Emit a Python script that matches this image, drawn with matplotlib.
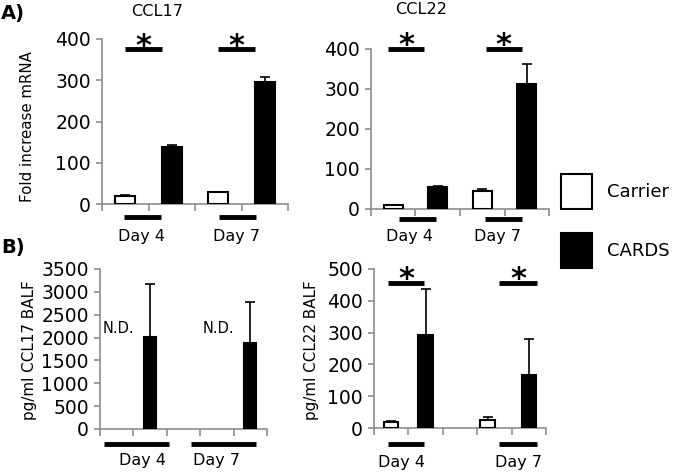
import matplotlib
matplotlib.use("Agg")
import matplotlib.pyplot as plt
from matplotlib.patches import Rectangle

plt.rcParams['font.family'] = ['DejaVu Sans']

# data
days = ['Day 4', 'Day 7']
groups = ['Carrier', 'CARDS']

# A) fold increase mRNA
ccl17_mrna = [20, 139, 28, 296]
ccl17_mrna_err = [2, 4, 2, 11]
ccl22_mrna = [10, 56, 46, 313]
ccl22_mrna_err = [1, 2, 4, 49]

# B) BALF protein (carrier CCL17 not detected)
ccl17_balf = [2005, 1875]
ccl17_balf_err = [1165, 905]
ccl22_balf = [20, 291, 24, 167]
ccl22_balf_err = [2, 146, 11, 112]

W, H = 680, 475
fig = plt.figure(figsize=(6.8, 4.75), dpi=100)
GRAY = '#8c8c8c'
TICK_FS = 13.5


def make_ax(left, right, y0, ytop):
    ax = fig.add_axes([left / W, (H - y0) / H, (right - left) / W, (y0 - ytop) / H])
    for s in ['top', 'right']:
        ax.spines[s].set_visible(False)
    for s in ['left', 'bottom']:
        ax.spines[s].set_color(GRAY)
        ax.spines[s].set_linewidth(1.2)
    ax.tick_params(axis='y', colors=GRAY, labelcolor='black', length=4, width=1.2,
                   pad=4, labelsize=TICK_FS)
    ax.tick_params(axis='x', colors=GRAY, length=5, width=1.2, labelbottom=False)
    return ax


def bars(ax, xs, vals, errs, colors, width):
    ax.bar(xs, vals, width=width, color=colors, edgecolor='black', linewidth=1.5, zorder=3)
    ax.errorbar(xs, vals, yerr=[[0] * len(vals), errs], fmt='none', ecolor='black',
                elinewidth=1.2, capsize=3.5, capthick=1.2, zorder=2)


def sig(ax, x0, x1, y):
    ax.plot([x0, x1], [y, y], color='black', lw=3.5, solid_capstyle='butt', clip_on=False)
    ax.annotate('*', ((x0 + x1) / 2, y), xytext=(0, -3.8), textcoords='offset points',
                ha='center', va='baseline', fontsize=22, fontweight='bold',
                annotation_clip=False)


def under(ax, x0, x1, yfrac):
    ax.plot([x0, x1], [yfrac, yfrac], color='black', lw=3.5, solid_capstyle='butt',
            transform=ax.get_xaxis_transform(), clip_on=False)


def daylabels(ax, xs, yfrac, fs):
    for x, d in zip(xs, days):
        ax.text(x, yfrac, d, ha='center', va='center', fontsize=fs,
                transform=ax.get_xaxis_transform())


cols4 = ['white', 'black', 'white', 'black']

# A) CCL17
ax1 = make_ax(102, 288, 204, 39)
bars(ax1, [0.5, 1.5, 2.5, 3.5], ccl17_mrna, ccl17_mrna_err, cols4, 0.43)
ax1.set_xlim(0, 4)
ax1.set_ylim(0, 400)
ax1.set_xticks([0, 1, 2, 3, 4])
ax1.set_yticks([0, 100, 200, 300, 400])
ax1.set_ylabel('Fold increase mRNA', fontsize=10.8)
ax1.yaxis.set_label_coords(-0.36, 0.47)
sig(ax1, 0.5, 1.3, 375)
sig(ax1, 2.5, 3.3, 375)
under(ax1, 0.47, 1.27, -0.08)
under(ax1, 2.52, 3.31, -0.08)
daylabels(ax1, [0.86, 2.9], -0.194, 11.5)
fig.text(157 / W, (H - 11) / H, 'CCL17', ha='center', va='center', fontsize=11.6)

# A) CCL22
ax2 = make_ax(371, 549, 209, 49)
bars(ax2, [0.5, 1.5, 2.5, 3.5], ccl22_mrna, ccl22_mrna_err, cols4, 0.43)
ax2.set_xlim(0, 4)
ax2.set_ylim(0, 400)
ax2.set_xticks([0, 1, 2, 3, 4])
ax2.set_yticks([0, 100, 200, 300, 400])
sig(ax2, 0.38, 1.19, 400)
sig(ax2, 2.58, 3.39, 400)
under(ax2, 0.63, 1.46, -0.06)
under(ax2, 2.56, 3.39, -0.06)
daylabels(ax2, [0.86, 2.85], -0.175, 11.5)
fig.text(421 / W, (H - 10) / H, 'CCL22', ha='center', va='center', fontsize=11.6)

# B) CCL17 BALF
ax3 = make_ax(100, 267, 429, 269)
bars(ax3, [1.5, 4.5], ccl17_balf, ccl17_balf_err, ['black', 'black'], 0.36)
ax3.set_xlim(0, 5)
ax3.set_ylim(0, 3500)
ax3.set_xticks([0, 1, 2, 3, 4, 5])
ax3.set_yticks(range(0, 3501, 500))
ax3.set_ylabel('pg/ml CCL17 BALF', fontsize=10.9)
ax3.yaxis.set_label_coords(-0.377, 0.49)
for x in [0.55, 3.55]:
    ax3.text(x, 2200, 'N.D.', ha='center', va='center', fontsize=10.5)
under(ax3, 0.12, 2.06, -0.095)
under(ax3, 2.72, 4.67, -0.095)
daylabels(ax3, [1.26, 3.5], -0.194, 11.5)

# B) CCL22 BALF
ax4 = make_ax(374, 546, 428, 269)
bars(ax4, [0.5, 1.5, 3.3, 4.5], ccl22_balf, ccl22_balf_err, cols4, 0.42)
ax4.set_xlim(0, 5)
ax4.set_ylim(0, 500)
ax4.set_xticks([0, 1, 2, 3, 4, 5])
ax4.set_yticks(range(0, 501, 100))
ax4.set_ylabel('pg/ml CCL22 BALF', fontsize=10.9)
ax4.yaxis.set_label_coords(-0.32, 0.49)
sig(ax4, 0.41, 1.45, 456)
sig(ax4, 3.63, 4.74, 456)
under(ax4, 0.41, 1.45, -0.1)
under(ax4, 3.63, 4.74, -0.1)
daylabels(ax4, [0.81, 4.19], -0.22, 11.5)

# legend
for (y_top, fc), name in zip([(174, 'white'), (233, 'black')], groups):
    fig.patches.append(Rectangle((561 / W, (H - y_top - 35) / H), 31 / W, 35 / H,
                                 facecolor=fc, edgecolor='black', linewidth=1.5,
                                 transform=fig.transFigure))
    fig.text(607 / W, (H - y_top - 18) / H, name, ha='left', va='center', fontsize=13)

# panel letters
fig.text(1 / W, (H - 13) / H, 'A)', ha='left', va='center', fontsize=14, fontweight='bold')
fig.text(1 / W, (H - 247) / H, 'B)', ha='left', va='center', fontsize=14, fontweight='bold')

fig.savefig('out.png', dpi=100)
